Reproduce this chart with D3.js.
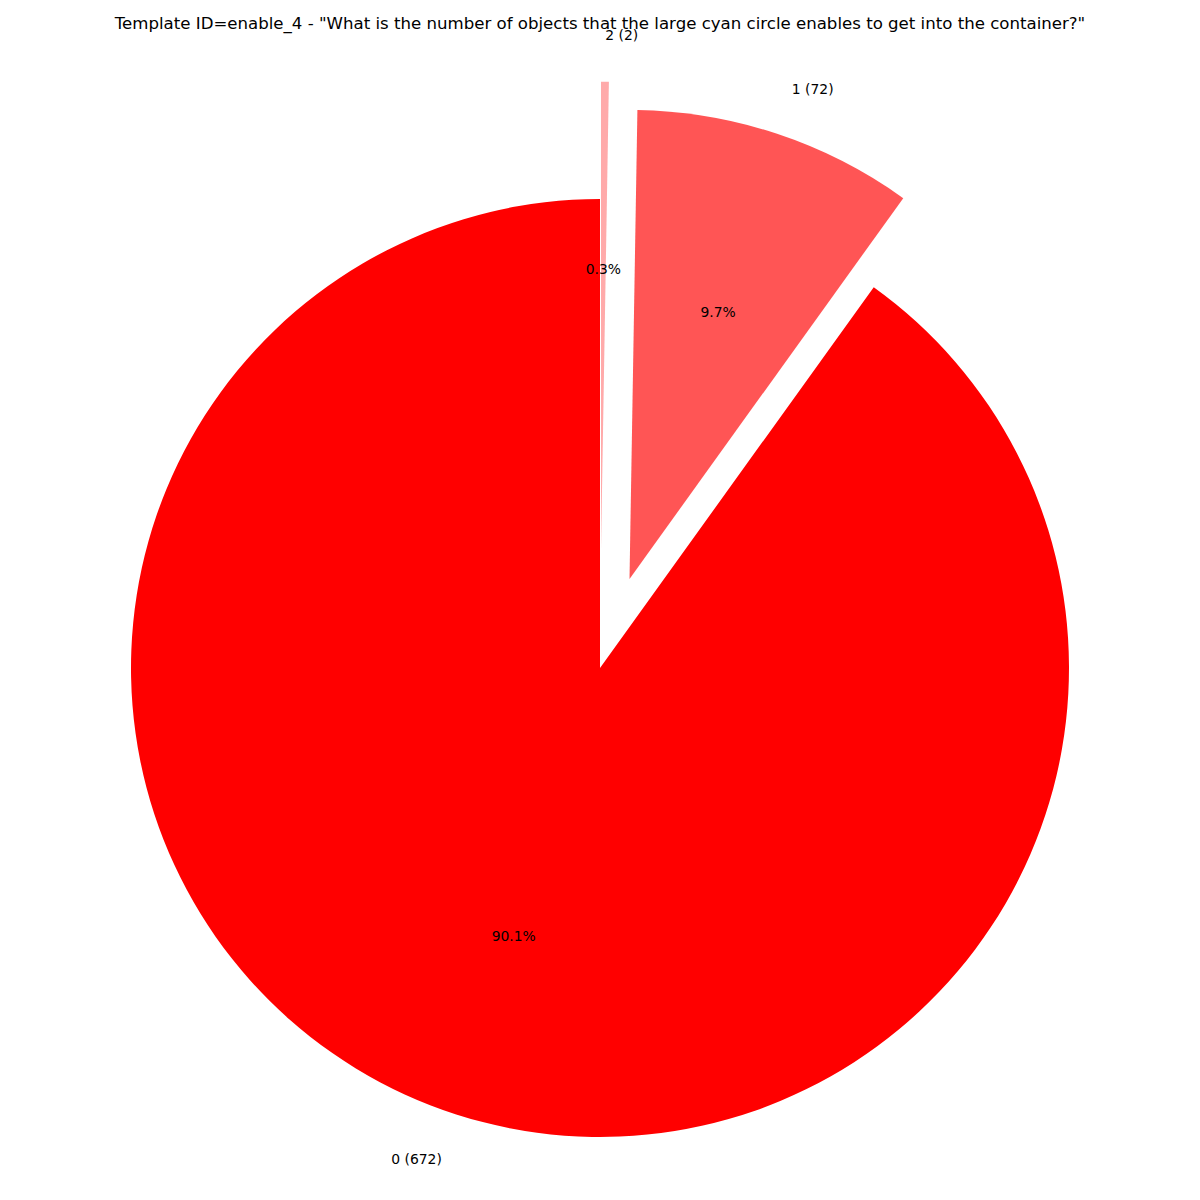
<!DOCTYPE html>
<html>
<head>
<meta charset="utf-8">
<script src="https://cdn.jsdelivr.net/npm/d3@7"></script>
<style>
  html, body { margin: 0; padding: 0; background: #fff; }
  svg { display: block; font-family: "DejaVu Sans", sans-serif; }
</style>
</head>
<body>
<svg id="chart" width="1200" height="1200"></svg>
<script>
const titleText = 'Template ID=enable_4 - "What is the number of objects that the large cyan circle enables to get into the container?"';
const categories = ["0", "1", "2"];
const counts = [672, 72, 2];
const colors = ["#ff0000", "#ff5555", "#ffaaaa"];
const explode = [0, 0.2, 0.25];

const W = 1200, H = 1200;
const cx = 600, cy = 668, R = 469;

const svg = d3.select("#chart");

svg.append("text")
  .attr("x", W / 2)
  .attr("y", 29)
  .attr("text-anchor", "middle")
  .attr("font-size", "16.6px")
  .attr("fill", "#000")
  .text(titleText);

const total = d3.sum(counts);
const data = categories.map((c, i) => ({ cat: c, value: counts[i], color: colors[i], explode: explode[i] }));

const pie = d3.pie()
  .value(d => d.value)
  .sort(null)
  .startAngle(0)
  .endAngle(-2 * Math.PI);

const arcs = pie(data);
const arcGen = d3.arc().innerRadius(0).outerRadius(R);

const g = svg.append("g").attr("transform", `translate(${cx},${cy})`);

arcs.forEach(a => {
  const mid = (a.startAngle + a.endAngle) / 2;
  const dx = a.data.explode * R * Math.sin(mid);
  const dy = -a.data.explode * R * Math.cos(mid);
  const sg = g.append("g").attr("transform", `translate(${dx},${dy})`);
  sg.append("path")
    .attr("d", arcGen({ startAngle: Math.min(a.startAngle, a.endAngle), endAngle: Math.max(a.startAngle, a.endAngle) }))
    .attr("fill", a.data.color);
  a._dx = dx; a._dy = dy; a._mid = mid;
});

arcs.forEach(a => {
  const mid = a._mid;
  const sx = Math.sin(mid), sy = -Math.cos(mid);
  const lx = a._dx + 1.1 * R * sx;
  const ly = a._dy + 1.1 * R * sy;
  g.append("text")
    .attr("x", lx)
    .attr("y", ly)
    .attr("dy", "0.35em")
    .attr("text-anchor", sx > 0 ? "start" : "end")
    .attr("font-size", "13.9px")
    .attr("fill", "#000")
    .text(`${a.data.cat} (${a.data.value})`);
  const px = a._dx + 0.6 * R * sx;
  const py = a._dy + 0.6 * R * sy;
  g.append("text")
    .attr("x", px)
    .attr("y", py)
    .attr("dy", "0.35em")
    .attr("text-anchor", "middle")
    .attr("font-size", "13.9px")
    .attr("fill", "#000")
    .text((a.data.value / total * 100).toFixed(1) + "%");
});
</script>
</body>
</html>
